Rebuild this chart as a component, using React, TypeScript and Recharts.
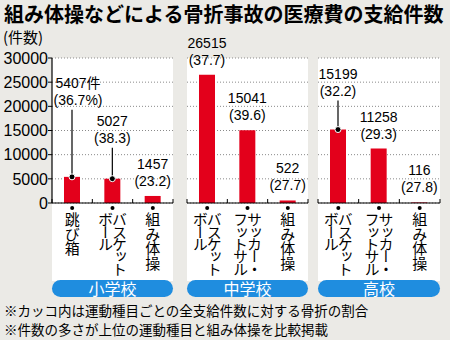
import { Bar, BarChart, CartesianGrid, LabelList, XAxis, YAxis } from "recharts"

const title = "組み体操などによる骨折事故の医療費の支給件数"
const unitLabel = "(件数)"
const schools = ["小学校", "中学校", "高校"]

// category labels, one entry per vertical column (right column first)
const elementarySports = [["跳び箱"], ["バスケット", "ボール"], ["組み体操"]]
const juniorSports = [["バスケット", "ボール"], ["サッカー・", "フットサル"], ["組み体操"]]
const highSports = [["バスケット", "ボール"], ["サッカー・", "フットサル"], ["組み体操"]]

const elementaryCounts = [5407, 5027, 1457]
const juniorCounts = [26515, 15041, 522]
const highCounts = [15199, 11258, 116]

const elementaryRatios = [36.7, 38.3, 23.2]
const juniorRatios = [37.7, 39.6, 27.7]
const highRatios = [32.2, 29.3, 27.8]

const yTicks = [0, 5000, 10000, 15000, 20000, 25000, 30000]

const notes = [
  "※カッコ内は運動種目ごとの全支給件数に対する骨折の割合",
  "※件数の多さが上位の運動種目と組み体操を比較掲載",
]

// extra lift / sideways shift for labels that hang on a leader line
const leaderLift = [[62, 26, 0], [0, 0, 0], [24, 0, 0]]
const labelShift = [[6, 0, 0], [0, 0, 0], [0, 0, 0]]

const RED = "#e3001b"
const BLUE = "#1f8ddf"
const BG = "#ebeae6"
const FONT = "'Noto Sans CJK JP', 'Noto Sans', sans-serif"
const NUM = "'Liberation Sans', Arial, sans-serif"

const PLOT_TOP = 58
const PLOT_BOTTOM = 203
const CHART_H = 290

const panels = [
  { sports: elementarySports, counts: elementaryCounts, ratios: elementaryRatios, left: 0, width: 180, ml: 0, mr: 7, px: 52, pw: 121 },
  { sports: juniorSports, counts: juniorCounts, ratios: juniorRatios, left: 177, width: 141, ml: 10, mr: 10, px: 187, pw: 121 },
  { sports: highSports, counts: highCounts, ratios: highRatios, left: 308, width: 142, ml: 10, mr: 10, px: 318, pw: 122 },
]

function Panel({ p, idx }: { p: (typeof panels)[number]; idx: number }) {
  const data = p.counts.map((c, i) => ({ name: `${idx}-${i}`, count: c, ratio: p.ratios[i] }))
  const band = p.pw / 3

  const Tick = (props: any) => {
    const { x, index } = props
    const cols = p.sports[index]
    const offs = cols.length === 2 ? [7, -7] : [0]
    return (
      <g>
        <line x1={x - band / 2} x2={x - band / 2} y1={PLOT_BOTTOM} y2={PLOT_BOTTOM - 4} stroke="#000" />
        {index === 2 && (
          <line x1={x + band / 2} x2={x + band / 2} y1={PLOT_BOTTOM} y2={PLOT_BOTTOM - 4} stroke="#000" />
        )}
        <circle cx={x} cy={PLOT_BOTTOM + 5} r={2} fill="#000" />
        {cols.map((s: string, k: number) => (
          <text
            key={k}
            x={x + offs[k]}
            y={PLOT_BOTTOM + 9}
            fontSize={15}
            fontFamily={FONT}
            fill="#000"
            style={{ writingMode: "vertical-rl", letterSpacing: cols.length === 2 ? "-2.6px" : "-0.5px" }}
          >
            {s}
          </text>
        ))}
      </g>
    )
  }

  const Label = (props: any) => {
    const { x, y, width, index, value } = props
    const cx = x + width / 2
    const tx = cx + labelShift[idx][index]
    const lift = leaderLift[idx][index]
    const base2 = y - 10 - lift
    const base1 = base2 - 17
    const first = idx === 0 && index === 0
    const ratio = data[index].ratio.toFixed(1)
    return (
      <g fontFamily={NUM} fontSize={14} fill="#000">
        <text x={tx} y={base1} textAnchor="middle">
          {value}
          {first && <tspan fontFamily={FONT}>件</tspan>}
        </text>
        <text x={tx} y={base2} textAnchor="middle">
          {first ? `(${ratio}%)` : `(${ratio})`}
        </text>
        {lift > 0 && (
          <>
            <line x1={cx} x2={cx} y1={base2 + 5} y2={y} stroke="#000" strokeWidth={1.2} />
            <circle cx={cx} cy={y} r={3} fill="#000" stroke="#fff" strokeWidth={1} />
          </>
        )}
      </g>
    )
  }

  return (
    <div style={{ position: "absolute", left: p.left, top: 0 }}>
      <BarChart
        width={p.width}
        height={CHART_H}
        data={data}
        margin={{ top: PLOT_TOP, bottom: CHART_H - PLOT_BOTTOM - 80, left: p.ml, right: p.mr }}
      >
        <CartesianGrid vertical={false} stroke="#8a8a8a" strokeDasharray="1 2" />
        <XAxis
          dataKey="name"
          height={80}
          interval={0}
          axisLine={{ stroke: "#000", strokeWidth: 1.2 }}
          tickLine={false}
          tick={<Tick />}
        />
        <YAxis
          hide={idx !== 0}
          width={52}
          domain={[0, 30000]}
          ticks={yTicks}
          interval={0}
          axisLine={{ stroke: "#000", strokeWidth: 1.2 }}
          tickLine={{ stroke: "#000" }}
          tickSize={4}
          tickMargin={0}
          tick={{ fill: "#000", fontSize: 16, fontFamily: NUM }}
        />
        <Bar dataKey="count" fill={RED} barSize={16} isAnimationActive={false}>
          <LabelList dataKey="count" content={<Label />} />
        </Bar>
      </BarChart>
    </div>
  )
}

export default function App() {
  return (
    <div
      style={{
        position: "absolute",
        left: 0,
        top: 0,
        width: 450,
        height: 340,
        background: BG,
        fontFamily: FONT,
        overflow: "hidden",
      }}
    >
      <div style={{ position: "absolute", left: 4, top: 0, fontSize: 20, fontWeight: 700, lineHeight: "28px", whiteSpace: "nowrap" }}>
        {title}
      </div>
      <div style={{ position: "absolute", left: 3, top: 27, fontSize: 15, lineHeight: "20px" }}>{unitLabel}</div>
      {panels.map((p, i) => (
        <div
          key={"bg" + i}
          style={{ position: "absolute", left: p.px, top: PLOT_TOP, width: p.pw, height: 281 - PLOT_TOP, background: "#fff" }}
        />
      ))}
      {panels.map((p, i) => (
        <Panel key={i} p={p} idx={i} />
      ))}
      {panels.map((p, i) => (
        <div
          key={"pill" + i}
          style={{
            position: "absolute",
            left: p.px,
            top: 280,
            width: p.pw,
            height: 17,
            borderRadius: 9,
            background: BLUE,
            color: "#fff",
            fontSize: 16,
            lineHeight: "17px",
            textAlign: "center",
          }}
        >
          {schools[i]}
        </div>
      ))}
      <div style={{ position: "absolute", left: 4, top: 300.5, fontSize: 13.5, lineHeight: "19.5px", whiteSpace: "nowrap" }}>
        {notes.map((n, i) => (
          <div key={i}>{n}</div>
        ))}
      </div>
    </div>
  )
}
